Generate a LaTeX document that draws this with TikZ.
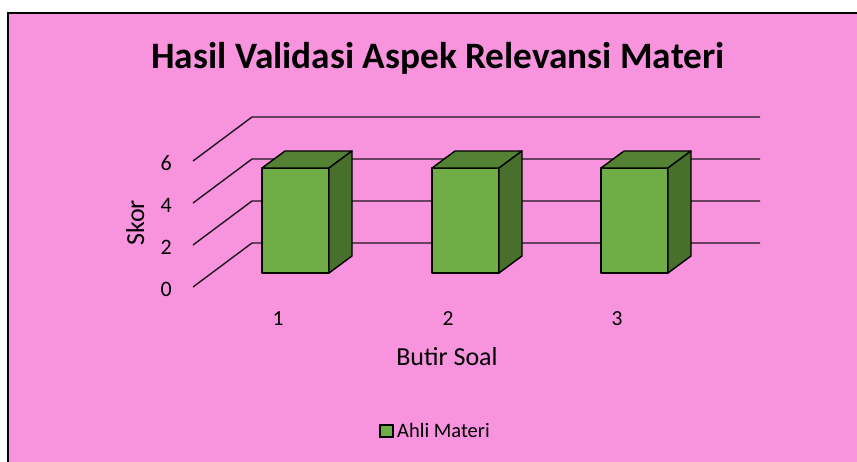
\documentclass[tikz,border=0pt]{standalone}
\usepackage{fontspec}
\setmainfont{Carlito}

\definecolor{chartpink}{RGB}{248,148,222}
\definecolor{barfront}{RGB}{112,173,71}
\definecolor{bartop}{RGB}{84,130,53}
\definecolor{barside}{RGB}{72,112,44}
\definecolor{gridcol}{RGB}{30,20,30}

\tikzset{
    gridln/.style={draw=gridcol, line width=1.4pt},
    barln/.style={draw=black, line width=1.4pt, line join=round},
    ticklab/.style={anchor=east, inner sep=0pt, font=\fontsize{22}{26}\selectfont},
    catlab/.style={inner sep=0pt, font=\fontsize{21.5}{25}\selectfont},
}

\begin{document}
\begin{tikzpicture}[x=1pt, y=-1pt]
        % \draw[help lines, step=50] (0,0) grid (857,461);
        \useasboundingbox (0,0) rectangle (857,461);
        \clip (0,0) rectangle (857,461);
        \draw[line width=2pt, fill=chartpink] (8,13) rectangle (880,480);

        \draw node[anchor=base, font=\bfseries\fontsize{37.3}{42}\selectfont] (title) at (438,68) {Hasil Validasi Aspek Relevansi Materi};

        % back wall and floor lines
        \draw[gridln] (193,287) -- (252,243) -- (760,243);
        \draw[gridln] (193,245) -- (252,201) -- (760,201);
        \draw[gridln] (193,203) -- (252,159) -- (760,159);
        \draw[gridln] (193,161) -- (252,117) -- (760,117);

        \draw node[ticklab] (y0) at (172,289) {0};
        \draw node[ticklab] (y2) at (172,247) {2};
        \draw node[ticklab] (y4) at (172,205) {4};
        \draw node[ticklab] (y6) at (172,163) {6};

        \draw node[anchor=base, rotate=90, font=\fontsize{26}{30}\selectfont] (skor) at (144,223) {Skor};

        % bar 1
        \filldraw[barln, fill=barfront] (262,168) rectangle (329,273);
        \filldraw[barln, fill=bartop] (262,168) -- (285,151) -- (352,151) -- (329,168) -- cycle;
        \filldraw[barln, fill=barside] (329,168) -- (352,151) -- (352,256) -- (329,273) -- cycle;
        % bar 2
        \filldraw[barln, fill=barfront] (432,168) rectangle (499,273);
        \filldraw[barln, fill=bartop] (432,168) -- (455,151) -- (522,151) -- (499,168) -- cycle;
        \filldraw[barln, fill=barside] (499,168) -- (522,151) -- (522,256) -- (499,273) -- cycle;
        % bar 3
        \filldraw[barln, fill=barfront] (601,168) rectangle (668,273);
        \filldraw[barln, fill=bartop] (601,168) -- (624,151) -- (691,151) -- (668,168) -- cycle;
        \filldraw[barln, fill=barside] (668,168) -- (691,151) -- (691,256) -- (668,273) -- cycle;

        \draw node[catlab] (x1) at (278,319) {1};
        \draw node[catlab] (x2) at (448,319) {2};
        \draw node[catlab] (x3) at (617,319) {3};

        \draw node[anchor=base, font=\fontsize{26}{30}\selectfont] (butir) at (447,365) {Butir Soal};

        % legend
        \filldraw[draw=black, line width=1.2pt, fill=barfront] (380,425) rectangle (393,437);
        \draw node[anchor=base west, inner sep=0pt, font=\fontsize{20.5}{24}\selectfont] (leg) at (397,437) {Ahli Materi};
\end{tikzpicture}
\end{document}
